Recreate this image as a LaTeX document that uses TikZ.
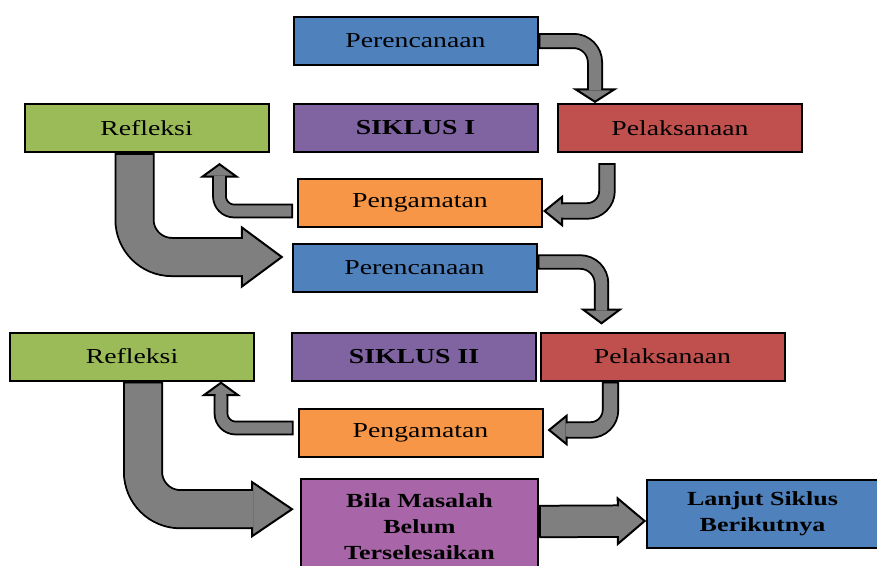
\documentclass[tikz,border=0pt]{standalone}
\usepackage{fontspec}
\setmainfont{Liberation Serif}[FakeStretch=1.3]
\usetikzlibrary{calc, arrows.meta}

\definecolor{planblue}{HTML}{4F81BD}
\definecolor{reflgreen}{HTML}{9BBB59}
\definecolor{cyclepurple}{HTML}{8064A2}
\definecolor{actred}{HTML}{C0504D}
\definecolor{obsorange}{HTML}{F79646}
\definecolor{openviolet}{HTML}{A866A9}
\definecolor{arrgray}{HTML}{7F7F7F}

\tikzstyle{box} = [rectangle, minimum width=183pt, minimum height=36pt, text centered, align=center, draw=black, line width=1.5pt, font=\fontsize{16}{20}\selectfont]
\tikzstyle{plan} = [box, fill=planblue]
\tikzstyle{reflect} = [box, fill=reflgreen]
\tikzstyle{cycle} = [box, fill=cyclepurple, font=\fontsize{16}{20}\selectfont\bfseries]
\tikzstyle{act} = [box, fill=actred]
\tikzstyle{observe} = [box, fill=obsorange]
\tikzstyle{open} = [box, fill=openviolet, minimum width=178pt, minimum height=71pt, font=\fontsize{15}{19.5}\selectfont\bfseries]
\tikzstyle{next} = [box, fill=planblue, minimum width=173pt, minimum height=51pt, font=\fontsize{15}{19.5}\selectfont\bfseries]

% block arrow: shaft width, head width, head length, corner radius, path
\newcommand{\blockarrow}[5]{%
  \draw[line width=#1+3pt, rounded corners=#4, shorten >=#3-1pt] #5;
  \draw[line width=#1, arrgray, rounded corners=#4, shorten <=1.5pt, -{Triangle[width=#2, length=#3, fill=arrgray, color=black, line width=1.5pt]}] #5;
  \draw[line width=#1, arrgray, rounded corners=#4, shorten <=1.5pt, shorten >=#3-1.5pt] #5;
}

\begin{document}
\begin{tikzpicture}[x=0.75pt, y=-0.75pt]
\useasboundingbox (0,0) rectangle (877,565);

% Siklus I
\node (plan1) [plan] at (415.5,41) {Perencanaan};
\node (refl1) [reflect] at (146.5,128) {Refleksi};
\node (sik1) [cycle] at (415.5,128) {SIKLUS I};
\node (pel1) [act] at (680,128) {Pelaksanaan};
\node (obs1) [observe] at (420,203) {Pengamatan};

% Siklus II
\node (plan2) [plan] at (414.5,268) {Perencanaan};
\node (refl2) [reflect] at (132,356.5) {Refleksi};
\node (sik2) [cycle] at (414,356.5) {SIKLUS II};
\node (pel2) [act] at (662.5,356.5) {Pelaksanaan};
\node (obs2) [observe] at (420.5,433) {Pengamatan};

% Akhir
\node (belum) [open] at (419.5,526.5) {Bila Masalah\\Belum\\Terselesaikan};
\node (lanjut) [next] at (762.5,514) {Lanjut Siklus\\Berikutnya};

% Arrows
\blockarrow{9pt}{34pt}{11pt}{16pt}{(plan1.east) -| ($(pel1.north west)+(38,0)$)}
\blockarrow{10pt}{24pt}{15pt}{15pt}{($(pel1.south west)+(50,10)$) |- ($(obs1.east)+(0,8)$)}
\blockarrow{8pt}{30pt}{11pt}{11pt}{($(obs1.west)+(-4,8)$) -| ($(refl1.south east)+(-50,10)$)}
\blockarrow{27pt}{47pt}{32pt}{28pt}{($(refl1.south west)+(111,0)$) |- ($(plan2.west)+(-8,-11)$)}
\blockarrow{8.5pt}{32pt}{12pt}{16pt}{($(plan2.east)+(0,-6)$) -| ($(pel2.north west)+(62,-7)$)}
\blockarrow{10pt}{24pt}{15pt}{15pt}{($(pel2.south west)+(71,0)$) |- ($(obs2.east)+(4,-3)$)}
\blockarrow{8pt}{30pt}{11pt}{11pt}{($(obs2.west)+(-4,-5)$) -| ($(refl2.south east)+(-34,0)$)}
\blockarrow{27pt}{43pt}{32pt}{28pt}{($(refl2.south west)+(134,0)$) |- ($(belum.north west)+(-6,31)$)}
\blockarrow{22pt}{37pt}{22pt}{0pt}{($(belum.east)+(0,-5)$) -- ($(lanjut.west)+(0,7)$)}

\end{tikzpicture}
\end{document}
